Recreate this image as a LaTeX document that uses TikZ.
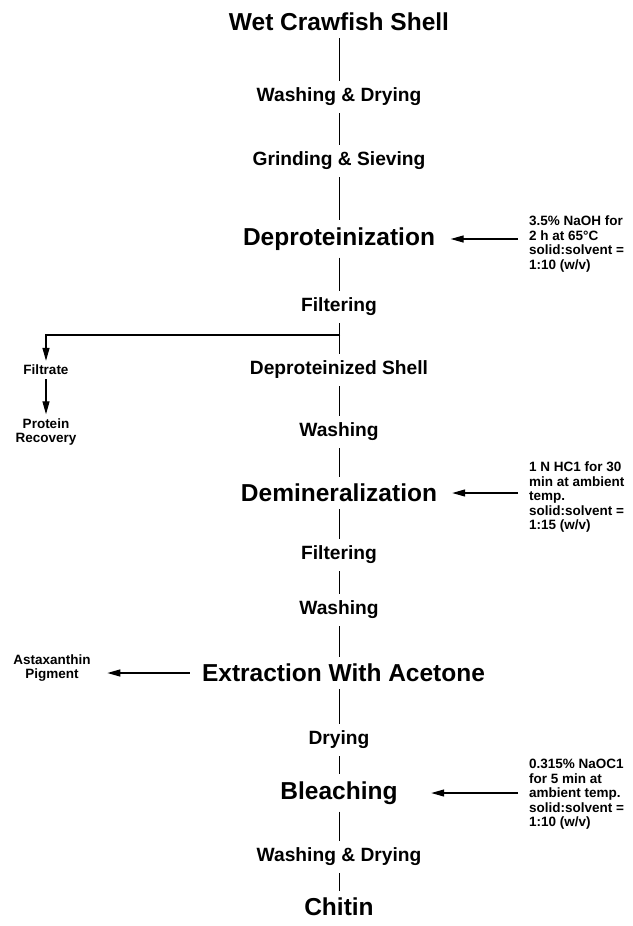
\documentclass[tikz,border=0pt]{standalone}
\usepackage{fontspec}
\setmainfont{Liberation Sans}
\usetikzlibrary{arrows.meta}

\newcommand{\sidearrow}[4]{
	\draw[flow, shorten <=#3pt, shorten >=#4pt] (#1 |- #2.east) -- (#2.east);
}

\tikzset{
	big/.style={font=\bfseries\fontsize{24.5}{26}\selectfont, inner xsep=5pt, inner ysep=7pt},
	mid/.style={font=\bfseries\fontsize{19.2}{21}\selectfont, inner xsep=5pt, inner ysep=7pt},
	small/.style={font=\bfseries\fontsize{13.5}{14.5}\selectfont, align=center, inner sep=4pt},
	note/.style={font=\bfseries\fontsize{13.5}{14.5}\selectfont, align=left, anchor=west, inner sep=0pt},
	flow/.style={line width=1.3pt, -{Triangle[length=13pt,width=7pt]}},
	stem/.style={line width=0.8pt}
}

\begin{document}
\begin{tikzpicture}[x=1pt,y=-1pt]
\useasboundingbox (0,0) rectangle (632,926);

\pgfmathsetmacro{\stX}{339}
\pgfmathsetmacro{\noteX}{529}
\pgfmathsetmacro{\sideX}{46}

% main column
\node[big] (wet) at (\stX,22) {Wet Crawfish Shell};
\node[mid] (washdry) at (\stX,97) {Washing \& Drying};
\node[mid] (grind) at (\stX,161) {Grinding \& Sieving};
\node[big] (deprot) at (\stX,239) {Deproteinization};
\node[mid] (filterA) at (\stX,307) {Filtering};
\node[mid] (dpshell) at (\stX,370) {Deproteinized Shell};
\node[mid] (washA) at (\stX,432) {Washing};
\node[big] (demin) at (\stX,493) {Demineralization};
\node[mid] (filterB) at (\stX,555) {Filtering};
\node[mid] (washB) at (\stX,610) {Washing};
\node[big] (extract) at (343.5,673) {Extraction With Acetone};
\node[mid] (dry) at (\stX,740) {Drying};
\node[big] (bleach) at (\stX,793) {Bleaching};
\node[mid] (washdryB) at (\stX,857) {Washing \& Drying};
\node[big] (chitin) at (\stX,907) {Chitin};

\draw[stem] (wet) -- (washdry);
\draw[stem] (washdry) -- (grind);
\draw[stem] (grind) -- (deprot);
\draw[stem] (deprot) -- (filterA);
\draw[stem] (filterA) -- (dpshell);
\draw[stem] (dpshell) -- (washA);
\draw[stem] (washA) -- (demin);
\draw[stem] (demin) -- (filterB);
\draw[stem] (filterB) -- (washB);
\draw[stem] (washB) -- (washB |- extract.north);
\draw[stem] (extract.south -| dry) -- (dry);
\draw[stem] (dry) -- (bleach);
\draw[stem] (bleach) -- (washdryB);
\draw[stem] (washdryB) -- (chitin);

% reagents
\node[note] (naoh) at (\noteX,244) {3.5\% NaOH for\\2 h at 65°C\\solid:solvent =\\1:10 (w/v)};
\node[note] (hcl) at (\noteX,497.5) {1 N HC1 for 30\\min at ambient\\temp.\\solid:solvent =\\1:15 (w/v)};
\node[note] (naocl) at (\noteX,794.5) {0.315\% NaOC1\\for 5 min at\\ambient temp.\\solid:solvent =\\1:10 (w/v)};

\sidearrow{naoh.west}{deprot}{11}{10.5}
\sidearrow{hcl.west}{demin}{11}{10}
\sidearrow{naocl.west}{bleach}{11}{28.5}

% side products
\coordinate (split) at (340,335);
\node[small] (filtrate) at (\sideX,370) {Filtrate};
\node[small] (protein) at (\sideX,432) {Protein\\Recovery};
\node[small] (astax) at (52,668) {Astaxanthin\\Pigment};

\draw[flow] (split) -| (filtrate);
\draw[flow] (filtrate) -- (protein);
\draw[flow, shorten <=7pt, shorten >=12.5pt] (extract.west) -- (extract.west -| astax.east);
\end{tikzpicture}
\end{document}
